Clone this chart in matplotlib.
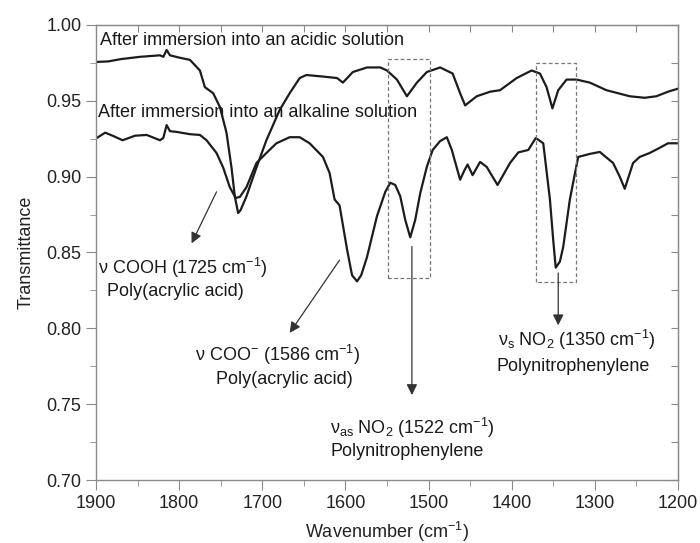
import matplotlib
matplotlib.use('Agg')
import matplotlib.pyplot as plt
from matplotlib.ticker import MultipleLocator, FormatStrFormatter

plt.rcParams['font.family'] = ['Liberation Sans', 'DejaVu Sans']
plt.rcParams['mathtext.fontset'] = 'custom'
plt.rcParams['mathtext.rm'] = 'Liberation Sans'
plt.rcParams['mathtext.it'] = 'Liberation Sans:italic'
plt.rcParams['mathtext.bf'] = 'Liberation Sans:bold'
plt.rcParams['mathtext.default'] = 'regular'

# acidic solution spectrum (wavenumber, transmittance)
acid_wn = [1900, 1885, 1870, 1847, 1823, 1819, 1815, 1811, 1800, 1787, 1775, 1769, 1759,
           1751, 1743, 1737, 1733, 1729, 1726, 1719, 1707, 1695, 1679, 1667, 1655, 1647,
           1627, 1610, 1603, 1591, 1574, 1558, 1550, 1538, 1526, 1514, 1502, 1486, 1471,
           1462, 1456, 1442, 1426, 1414, 1394, 1376, 1366, 1358, 1351, 1344, 1334, 1322,
           1306, 1286, 1258, 1240, 1226, 1212, 1200]
acid_t = [0.9756, 0.976, 0.9775, 0.979, 0.980, 0.979, 0.9835, 0.980, 0.9785, 0.977, 0.970,
          0.959, 0.955, 0.946, 0.929, 0.906, 0.887, 0.876, 0.878, 0.887, 0.906, 0.924,
          0.944, 0.955, 0.965, 0.967, 0.966, 0.965, 0.962, 0.969, 0.972, 0.972, 0.970,
          0.964, 0.953, 0.962, 0.969, 0.972, 0.968, 0.955, 0.947, 0.953, 0.956, 0.957,
          0.965, 0.970, 0.968, 0.959, 0.945, 0.957, 0.964, 0.964, 0.962, 0.957, 0.953,
          0.952, 0.953, 0.956, 0.958]

# alkaline solution spectrum
alk_wn = [1899, 1889, 1880, 1868, 1853, 1839, 1823, 1819, 1815, 1811, 1803, 1787, 1775,
          1767, 1755, 1747, 1739, 1732, 1727, 1719, 1707, 1695, 1683, 1667, 1655, 1643,
          1627, 1619, 1613, 1607, 1598, 1592, 1586, 1581, 1574, 1562, 1552, 1546, 1540,
          1534, 1528, 1522, 1516, 1510, 1502, 1495, 1486, 1478, 1472, 1462, 1457, 1453,
          1447, 1438, 1430, 1417, 1402, 1392, 1380, 1371, 1362, 1354, 1350, 1347, 1342,
          1338, 1330, 1320, 1306, 1294, 1278, 1270, 1264, 1254, 1246, 1234, 1222, 1212, 1200]
alk_t = [0.9255, 0.929, 0.927, 0.924, 0.927, 0.9275, 0.924, 0.9255, 0.934, 0.930, 0.9295,
         0.928, 0.9275, 0.924, 0.9156, 0.906, 0.893, 0.886, 0.8866, 0.893, 0.909, 0.9156,
         0.922, 0.926, 0.926, 0.922, 0.913, 0.9024, 0.885, 0.881, 0.852, 0.835, 0.831,
         0.835, 0.847, 0.874, 0.890, 0.896, 0.8945, 0.887, 0.8715, 0.860, 0.8715, 0.889,
         0.9066, 0.9176, 0.9235, 0.926, 0.9176, 0.898, 0.904, 0.908, 0.901, 0.9097, 0.9064,
         0.8945, 0.909, 0.916, 0.9176, 0.9255, 0.922, 0.885, 0.858, 0.840, 0.844, 0.8537,
         0.885, 0.913, 0.915, 0.9163, 0.909, 0.900, 0.892, 0.909, 0.913, 0.9156, 0.919,
         0.922, 0.922]

# dashed boxes (wn left, wn right, T bottom, T top)
box_as = [1549, 1498, 0.8334, 0.9774]
box_s = [1371, 1323, 0.8308, 0.9747]

fig = plt.figure(figsize=(7, 5.43), dpi=100)
ax = fig.add_axes([0.1371, 0.116, 0.8314, 0.838])

lc = '#1c1c1c'
ax.plot(acid_wn, acid_t, color=lc, lw=1.6)
ax.plot(alk_wn, alk_t, color=lc, lw=1.6)

for b in (box_as, box_s):
    ax.plot([b[0], b[0], b[1], b[1], b[0]], [b[2], b[3], b[3], b[2], b[2]],
            ls=(0, (3, 2)), color='#777777', lw=0.9)

ax.set_xlim(1900, 1200)
ax.set_ylim(0.70, 1.00)
ax.xaxis.set_major_locator(MultipleLocator(100))
ax.xaxis.set_minor_locator(MultipleLocator(50))
ax.yaxis.set_major_locator(MultipleLocator(0.05))
ax.yaxis.set_minor_locator(MultipleLocator(0.025))
ax.yaxis.set_major_formatter(FormatStrFormatter('%.2f'))

for s in ax.spines.values():
    s.set_color('#8a8a8a')
    s.set_linewidth(1.0)
ax.tick_params(which='both', direction='out', color='#8a8a8a', labelsize=13,
               labelcolor='#222222')
ax.tick_params(which='major', length=7)
ax.tick_params(which='minor', length=4)
ax.set_xlabel('Wavenumber (cm$^{-1}$)', fontsize=13, color='#222222', labelpad=6)
ax.set_ylabel('Transmittance', fontsize=13, color='#222222', labelpad=8)

# mirrored ticks on top/right, pointing in
axt = ax.secondary_xaxis('top')
axt.xaxis.set_major_locator(MultipleLocator(50))
axt.tick_params(direction='in', length=5, color='#8a8a8a', labeltop=False)
axt.spines['top'].set_color('#8a8a8a')
axr = ax.secondary_yaxis('right')
axr.yaxis.set_major_locator(MultipleLocator(0.025))
axr.tick_params(direction='in', length=5, color='#8a8a8a', labelright=False)
axr.spines['right'].set_color('#8a8a8a')

tc = '#1a1a1a'
fs = 13
ax.text(1895, 0.990, 'After immersion into an acidic solution', fontsize=fs, color=tc, va='center')
ax.text(1897, 0.942, 'After immersion into an alkaline solution', fontsize=fs, color=tc, va='center')

ax.text(1897.5, 0.840, 'ν COOH (1725 cm$^{-1}$)', fontsize=fs, color=tc, va='center')
ax.text(1805, 0.824, 'Poly(acrylic acid)', fontsize=fs, color=tc, va='center', ha='center')

ax.text(1781, 0.7825, 'ν COO$^{-}$ (1586 cm$^{-1}$)', fontsize=fs, color=tc, va='center')
ax.text(1673, 0.766, 'Poly(acrylic acid)', fontsize=fs, color=tc, va='center', ha='center')

ax.text(1618.5, 0.7343, 'ν$_{as}$ NO$_2$ (1522 cm$^{-1}$)', fontsize=fs, color=tc, va='center')
ax.text(1526, 0.7185, 'Polynitrophenylene', fontsize=fs, color=tc, va='center', ha='center')

ax.text(1416.5, 0.7924, 'ν$_{s}$ NO$_2$ (1350 cm$^{-1}$)', fontsize=fs, color=tc, va='center')
ax.text(1326, 0.775, 'Polynitrophenylene', fontsize=fs, color=tc, va='center', ha='center')

arr = dict(arrowstyle='-|>', color='#333333', lw=0.9, mutation_scale=16,
           shrinkA=0, shrinkB=0)
ax.annotate('', xy=(1785, 0.856), xytext=(1755, 0.890), arrowprops=arr)
ax.annotate('', xy=(1667, 0.797), xytext=(1607, 0.845), arrowprops=arr)
ax.annotate('', xy=(1520, 0.756), xytext=(1520, 0.854), arrowprops=arr)
ax.annotate('', xy=(1344, 0.802), xytext=(1344, 0.8365), arrowprops=arr)

fig.savefig('out.png', dpi=100)
